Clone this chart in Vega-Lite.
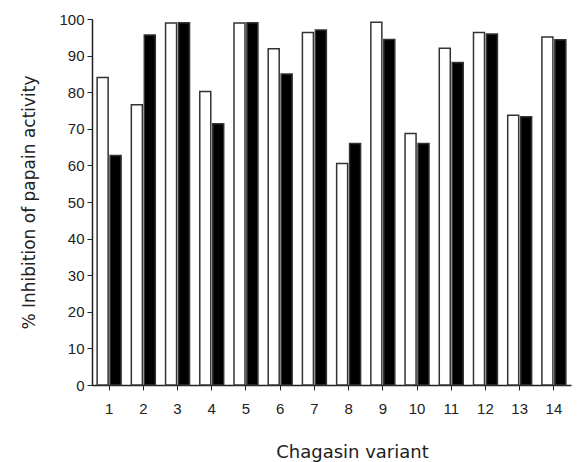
{
  "$schema": "https://vega.github.io/schema/vega-lite/v6.json",
  "width": 479,
  "height": 366,
  "autosize": {"type": "none"},
  "padding": {"left": 92, "top": 19, "right": 8, "bottom": 77},
  "background": "white",
  "data": {
    "values": [
      {"variant": 1, "series": "A", "value": 84},
      {"variant": 1, "series": "B", "value": 62.7},
      {"variant": 2, "series": "A", "value": 76.6},
      {"variant": 2, "series": "B", "value": 95.6},
      {"variant": 3, "series": "A", "value": 98.9},
      {"variant": 3, "series": "B", "value": 99},
      {"variant": 4, "series": "A", "value": 80.2},
      {"variant": 4, "series": "B", "value": 71.4},
      {"variant": 5, "series": "A", "value": 98.9},
      {"variant": 5, "series": "B", "value": 99},
      {"variant": 6, "series": "A", "value": 91.9},
      {"variant": 6, "series": "B", "value": 85},
      {"variant": 7, "series": "A", "value": 96.3},
      {"variant": 7, "series": "B", "value": 97},
      {"variant": 8, "series": "A", "value": 60.5},
      {"variant": 8, "series": "B", "value": 66},
      {"variant": 9, "series": "A", "value": 99.1},
      {"variant": 9, "series": "B", "value": 94.4},
      {"variant": 10, "series": "A", "value": 68.7},
      {"variant": 10, "series": "B", "value": 66},
      {"variant": 11, "series": "A", "value": 92},
      {"variant": 11, "series": "B", "value": 88.1},
      {"variant": 12, "series": "A", "value": 96.3},
      {"variant": 12, "series": "B", "value": 95.9},
      {"variant": 13, "series": "A", "value": 73.7},
      {"variant": 13, "series": "B", "value": 73.3},
      {"variant": 14, "series": "A", "value": 95.1},
      {"variant": 14, "series": "B", "value": 94.3}
    ]
  },
  "mark": {"type": "bar", "stroke": "#333", "strokeWidth": 1.5},
  "encoding": {
    "x": {
      "field": "variant",
      "type": "ordinal",
      "scale": {"paddingInner": 0.3, "paddingOuter": 0.15},
      "axis": {
        "title": "Chagasin variant",
        "titleX": 260,
        "labelAngle": 0,
        "labelFont": "Liberation Sans",
        "labelFontSize": 15,
        "labelColor": "#222",
        "labelPadding": 11,
        "tickSize": 5,
        "tickColor": "#222",
        "domainColor": "#222",
        "domainWidth": 1.5,
        "titleFont": "DejaVu Sans",
        "titleFontSize": 18,
        "titleFontWeight": "normal",
        "titleColor": "#222",
        "titlePadding": 27
      }
    },
    "xOffset": {"field": "series", "scale": {"paddingInner": 0.15}},
    "y": {
      "field": "value",
      "type": "quantitative",
      "scale": {"domain": [0, 100], "nice": false},
      "axis": {
        "title": "% Inhibition of papain activity",
        "values": [0, 10, 20, 30, 40, 50, 60, 70, 80, 90, 100],
        "grid": false,
        "labelFont": "Liberation Sans",
        "labelFontSize": 15,
        "labelColor": "#222",
        "labelPadding": 3,
        "tickSize": 5,
        "tickColor": "#222",
        "domainColor": "#222",
        "domainWidth": 1.5,
        "titleFont": "DejaVu Sans",
        "titleFontSize": 17,
        "titleFontWeight": "normal",
        "titleColor": "#222",
        "titlePadding": 20
      }
    },
    "fill": {
      "field": "series",
      "type": "nominal",
      "scale": {"domain": ["A", "B"], "range": ["white", "black"]},
      "legend": null
    }
  },
  "config": {"view": {"stroke": null}}
}
